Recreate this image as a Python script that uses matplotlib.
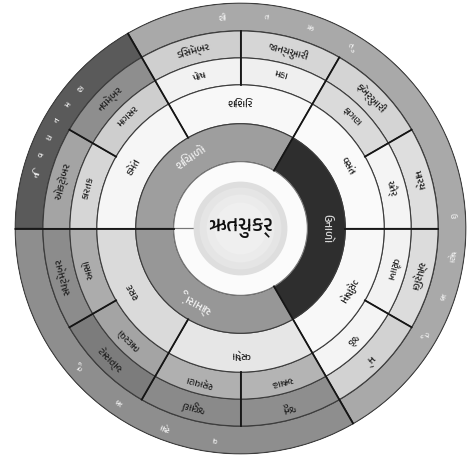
import numpy as np
import matplotlib
matplotlib.use('Agg')
from matplotlib import pyplot as plt
from matplotlib import font_manager

# ઋતુચક્ર - seasonal wheel (Gregorian months, Hindu months, 6 seasons, 3 seasons)
greg_months = ['જાન્યુઆરી', 'ફેબ્રુઆરી', 'માર્ચ', 'એપ્રિલ', 'મે', 'જૂન',
               'જુલાઈ', 'ઓગસ્ટ', 'સપ્ટેમ્બર', 'ઓક્ટોબર', 'નવેમ્બર', 'ડિસેમ્બર']
greg_colors = ['#d6d6d6', '#d4d4d4', '#dedede', '#dcdcdc', '#d2d2d2', '#8e8e8e',
               '#8a8a8a', '#7c7c7c', '#8c8c8c', '#a4a4a4', '#8e8e8e', '#cfcfcf']

hindu_months = ['મહા', 'ફાગણ', 'ચૈત્ર', 'વૈશાખ', 'જેઠ', 'અષાઢ',
                'શ્રાવણ', 'ભાદરવો', 'આસો', 'કારતક', 'માગસર', 'પોષ']
hindu_colors = ['#efefef', '#dadada', '#f4f4f4', '#f2f2f2', '#f4f4f4', '#b4b4b4',
                '#b0b0b0', '#a4a4a4', '#acacac', '#d6d6d6', '#cecece', '#f2f2f2']

seasons6 = ['શિશિર', 'વસંત', 'ગ્રીષ્મ', 'વર્ષા', 'શરદ', 'હેમંત']
seasons6_colors = ['#f8f8f8', '#fafafa', '#f8f8f8', '#e6e6e6', '#dadada', '#f6f6f6']

seasons3 = ['શિયાળો', 'ઉનાળો', 'ચોમાસું']
seasons3_colors = ['#9e9e9e', '#2e2e2e', '#979797']
seasons3_text = ['#eeeeee', '#d8d8d8', '#eeeeee']

# outer band: (start deg, end deg, colour) and spelled-out words
outer_spans = [(-60, 120, '#a9a9a9'), (120, 180, '#5a5a5a'), (180, 300, '#8e8e8e')]
outer_words = [['શી', 'ત', 'ઋ', 'તુ'], ['ઉ', 'ષ્ણ', 'ઋ', 'તુ'],
               ['વ', 'ર્ષા', 'ઋ', 'તુ'], ['નિ', 'વ', 'ધ', 'ન', 'મ', 'શ']]
outer_word_mid = [77, -13, 242, 152]
outer_word_step = [12, 11, 14, 5.2]

center_title = 'ઋતુચક્ર'

# radii in pixels
R_OUT, R_GREG, R_HINDU, R_S6, R_S3, R_WHITE, R_DISC = 226, 198, 171, 144, 105, 67, 47

fams = [f.name for f in font_manager.fontManager.ttflist
        if 'Gujarati' in f.name or 'Lohit' in f.name or 'Shruti' in f.name]
plt.rcParams['font.family'] = sorted(set(fams)) + ['DejaVu Sans']

fig = plt.figure(figsize=(4.73, 4.65), dpi=100)
ax = fig.add_axes([0.0307, 0.0226, 0.9556, 0.972], projection='polar')
ax.set_ylim(0, R_OUT + 0.5)
ax.set_axis_off()

EDGE = '#3c3c3c'


def ring(centers, width, r0, r1, colors):
    ax.bar(np.deg2rad(centers), r1 - r0, width=np.deg2rad(width), bottom=r0,
           color=colors, edgecolor=EDGE, linewidth=0.8, align='center')


def label(deg, r, s, size, color='#222222', weight='normal'):
    ax.text(np.deg2rad(deg), r, s, rotation=deg - 90, rotation_mode='anchor',
            ha='center', va='center', fontsize=size, color=color, fontweight=weight)


month_mid = [75 - 30 * i for i in range(12)]
s6_mid = [90 - 60 * i for i in range(6)]
s3_mid = [120, 0, -120]

# outer band
for a0, a1, c in outer_spans:
    ax.bar(np.deg2rad((a0 + a1) / 2), R_OUT - R_GREG, width=np.deg2rad(a1 - a0),
           bottom=R_GREG, color=c, edgecolor=EDGE, linewidth=1.0)

ring(month_mid, 30, R_HINDU, R_GREG, greg_colors)
ring(month_mid, 30, R_S6, R_HINDU, hindu_colors)
ring(s6_mid, 60, R_S3, R_S6, seasons6_colors)
ring(s3_mid, 120, R_WHITE, R_S3, seasons3_colors)

# centre: white ring and light disc with soft shading
ax.bar(0, R_WHITE, width=2 * np.pi, bottom=0, color='#fbfbfb', edgecolor='#777777', linewidth=0.8)
for r, c in zip([R_DISC, 41, 34, 26], ['#dedede', '#e5e5e5', '#ebebeb', '#efefef']):
    ax.bar(0, r, width=2 * np.pi, bottom=0, color=c, linewidth=0)

# heavier radial dividers
dividers = {60: (R_WHITE, R_GREG), 180: (R_WHITE, R_OUT), 300: (R_WHITE, R_OUT),
            120: (R_S3, R_OUT), 0: (R_S3, R_GREG), 240: (R_S3, R_GREG)}
for a in [30, 90, 150, 210, 270, 330]:
    dividers[a] = (R_S6, R_GREG)
for a, (r0, r1) in dividers.items():
    ax.plot([np.deg2rad(a)] * 2, [r0, r1], color='#151515', linewidth=1.3)

# labels
for m, s, h in zip(month_mid, greg_months, hindu_months):
    label(m, (R_HINDU + R_GREG) / 2, s, 7.5)
    label(m, (R_S6 + R_HINDU) / 2, h, 7)
for m, s in zip(s6_mid, seasons6):
    label(m, (R_S3 + R_S6) / 2, s, 7.5)
for m, s, c in zip([125, 0, 241], seasons3, seasons3_text):
    label(m, (R_WHITE + R_S3) / 2, s, 8.5, color=c)

for word, mid, step in zip(outer_words, outer_word_mid, outer_word_step):
    n = len(word)
    for k, ch in enumerate(word):
        deg = mid + step * ((n - 1) / 2 - k)
        label(deg, (R_GREG + R_OUT) / 2, ch, 6, color='#eeeeee')

ax.text(0, 0, center_title, ha='center', va='center', fontsize=15,
        fontweight='bold', color='#111111')

fig.savefig('out.png', dpi=100, facecolor='white')
